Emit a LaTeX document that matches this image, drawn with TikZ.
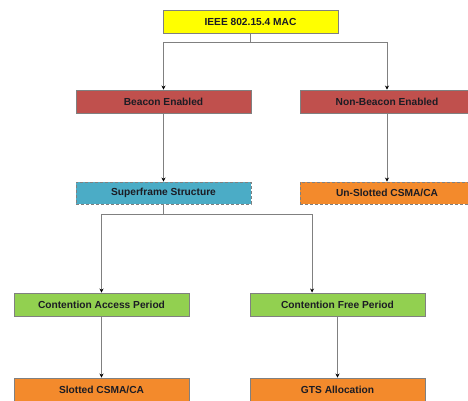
\documentclass[tikz,border=0pt]{standalone}
\usepackage{fontspec}
\setmainfont{Liberation Sans}
\usetikzlibrary{arrows.meta,calc}
\definecolor{cyel}{HTML}{FFFF00}
\definecolor{cred}{HTML}{C0504D}
\definecolor{cteal}{HTML}{4BACC6}
\definecolor{corg}{HTML}{F38A2C}
\definecolor{cgrn}{HTML}{92D050}
\definecolor{cline}{HTML}{808080}
\definecolor{ctxt}{HTML}{1C1C24}
\tikzset{
  box/.style={rectangle, draw=cline, line width=0.9pt, minimum width=174pt, minimum height=23pt,
    inner sep=0pt, font=\fontsize{10.2}{12}\selectfont\bfseries, text=ctxt},
  dbox/.style={box, dashed, dash pattern=on 3pt off 2pt},
  conn/.style={draw=cline, line width=0.9pt},
  arr/.style={conn, -{Stealth[black,length=4pt,width=4pt]}}
}
\begin{document}
\begin{tikzpicture}[x=1pt,y=-1pt]
\useasboundingbox (0,0) rectangle (468,401);
\fill[white] (0,0) rectangle (468,401);
\node[box, fill=cyel, minimum width=175pt] (mac) at (250.5,21.5) {IEEE 802.15.4 MAC};
\node[box, fill=cred, minimum width=175pt] (be) at (163.5,101.5) {Beacon Enabled};
\node[box, fill=cred] (nbe) at (387,101.5) {Non-Beacon Enabled};
\node[dbox, fill=cteal, minimum width=175pt, minimum height=22pt] (sf) at (163.5,193) {Superframe Structure};
\node[dbox, fill=corg, minimum height=22pt] (us) at (387,193) {Un-Slotted CSMA/CA};
\node[box, fill=cgrn, minimum width=175pt] (cap) at (101.5,304.5) {Contention Access Period};
\node[box, fill=cgrn, minimum width=175pt] (cfp) at (337.5,304.5) {Contention Free Period};
\node[box, fill=corg, minimum width=175pt] (sl) at (101.5,389.5) {Slotted CSMA/CA};
\node[box, fill=corg, minimum width=175pt] (gts) at (337.5,389.5) {GTS Allocation};
% connectors
\coordinate (j1) at ($(mac.south)+(0,9)$);
\draw[conn] (mac.south) -- (j1);
\draw[arr] (j1) -| (be.north);
\draw[arr] (j1) -| (nbe.north);
\draw[arr] (be.south) -- (sf.north);
\draw[arr] (nbe.south) -- (us.north);
\coordinate (j2) at ($(sf.south)+(0,10)$);
\coordinate (cfpin) at ($(cfp.north west)+(62.5,0)$);
\draw[conn] (sf.south) -- (j2);
\draw[arr] (j2) -| (cap.north);
\draw[arr] (j2) -| (cfpin);
\draw[arr] (cap.south) -- (sl.north);
\draw[arr] (cfp.south) -- (gts.north);
\end{tikzpicture}
\end{document}
